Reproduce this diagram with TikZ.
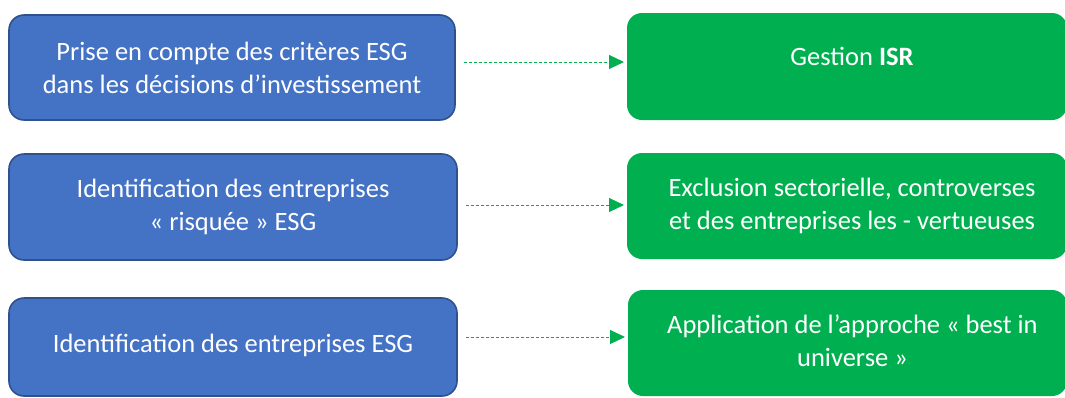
\documentclass[tikz,border=0pt]{standalone}
\usepackage{fontspec}
\setmainfont{Carlito}
\usetikzlibrary{arrows.meta}
\definecolor{bluefill}{HTML}{4472C4}
\definecolor{blueline}{HTML}{2F528F}
\definecolor{greenfill}{HTML}{00B050}
\newcommand{\gtxt}[1]{\hspace*{10pt}\begin{tabular}{@{}c@{}}#1\end{tabular}}
\begin{document}
\begin{tikzpicture}[x=1pt,y=-1pt,
 boxtext/.style={text=white,align=center,inner sep=0pt,outer sep=0pt,rounded corners=15pt,font=\fontsize{26.5}{33}\selectfont},
 bluebox/.style={boxtext,draw=blueline,line width=1.6pt,fill=bluefill},
 greenbox/.style={boxtext,fill=greenfill},
 arr/.style={draw=greenfill,line width=1pt,dash pattern=on 3pt off 2pt,-{Triangle[length=15pt,width=14pt]},shorten <=9pt,shorten >=3pt}]
\useasboundingbox (0,0) rectangle (1065,397);
\clip (0,0) rectangle (1065,397);
\node[bluebox,minimum width=446pt,minimum height=105pt] (b1) at (232,67.5) {Prise en compte des critères ESG\\dans les décisions d’investissement};
\node[bluebox,minimum width=448pt,minimum height=106pt] (b2) at (233,207) {Identification des entreprises\\« risquée » ESG};
\node[bluebox,minimum width=448pt,minimum height=98pt] (b3) at (233,347) {\raisebox{7pt}{Identification des entreprises ESG}};
\node[greenbox,minimum width=440pt,minimum height=107pt] (g1) at (847,66.5) {\gtxt{\raisebox{10pt}{Gestion \textbf{ISR}}}};
\node[greenbox,minimum width=440pt,minimum height=106pt] (g2) at (847,206) {\gtxt{Exclusion sectorielle, controverses\\et des entreprises les - vertueuses}};
\node[greenbox,minimum width=439pt,minimum height=106pt] (g3) at (847.5,343) {\gtxt{Application de l’approche « best in\\universe »}};
\coordinate (a1) at (0,62);
\coordinate (a2) at (0,205);
\coordinate (a3) at (0,337);
\draw[arr] (b1.east |- a1) -- (g1.west |- a1);
\draw[arr] (b2.east |- a2) -- (g2.west |- a2);
\draw[arr] (b3.east |- a3) -- (g3.west |- a3);
\end{tikzpicture}
\end{document}
